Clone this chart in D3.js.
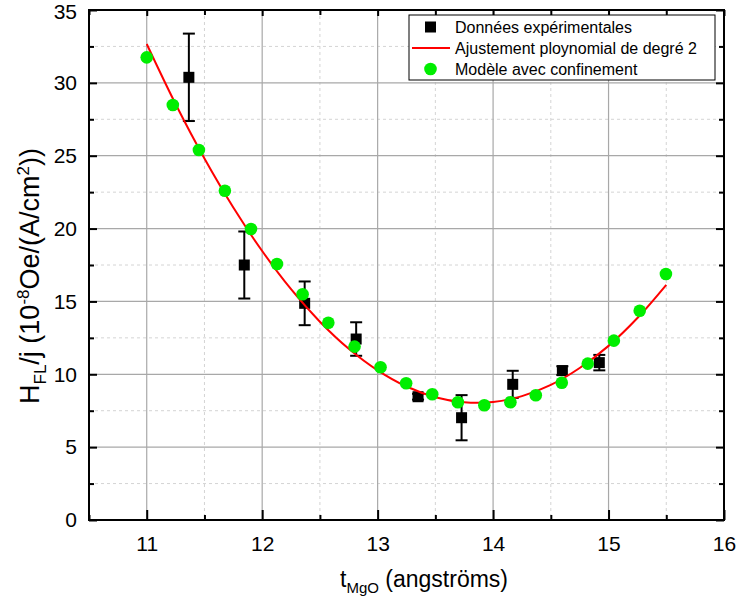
<!DOCTYPE html>
<html><head><meta charset="utf-8">
<script src="https://cdn.jsdelivr.net/npm/d3@7"></script>
<style>body{margin:0;background:#fff}svg{display:block;font-family:"Liberation Sans",Arial,sans-serif}</style>
</head><body>
<script>
const expX = [11.365, 11.845, 12.368, 12.814, 13.35, 13.727, 14.17, 14.60, 14.92];
const expY = [30.38, 17.50, 14.87, 12.42, 8.46, 7.02, 9.31, 10.25, 10.80];
const expErr = [3.0, 2.3, 1.5, 1.15, 0.2, 1.55, 0.93, 0.3, 0.53];
const fitX = [11, 11.25, 11.5, 11.75, 12, 12.25, 12.5, 12.75, 13, 13.25, 13.5, 13.75, 14, 14.25, 14.5, 14.75, 15, 15.25, 15.5];
const fitY = [32.67, 28.55, 24.81, 21.45, 18.46, 15.84, 13.61, 11.75, 10.27, 9.16, 8.43, 8.08, 8.10, 8.50, 9.27, 10.43, 11.95, 13.86, 16.14];
const modX = [11.0, 11.226, 11.452, 11.677, 11.903, 12.128, 12.35, 12.573, 12.8, 13.025, 13.247, 13.473, 13.695, 13.924, 14.15, 14.37, 14.595, 14.82, 15.046, 15.27, 15.497];
const modY = [31.75, 28.48, 25.39, 22.6, 19.97, 17.57, 15.49, 13.54, 11.9, 10.48, 9.38, 8.63, 8.08, 7.87, 8.08, 8.56, 9.42, 10.73, 12.31, 14.36, 16.88];
const xTicks = [11, 12, 13, 14, 15, 16];
const xMinor = [10.5, 11.5, 12.5, 13.5, 14.5, 15.5];
const yTicks = [0, 5, 10, 15, 20, 25, 30, 35];
const yMinor = [2.5, 7.5, 12.5, 17.5, 22.5, 27.5, 32.5];
const legendLabels = ["Données expérimentales", "Ajustement ploynomial de degré 2", "Modèle avec confinement"];

(function () {
const W = 736, H = 604;
const L = 89, R = 724, T = 10, B = 520;
const svg = d3.select("body").append("svg").attr("width", W).attr("height", H);
const x = d3.scaleLinear().domain([10.5, 16]).range([L, R]);
const y = d3.scaleLinear().domain([0, 35]).range([B, T]);

// grid
const g = svg.append("g");
g.selectAll(".gmx").data(xMinor.filter(v => v > 10.5)).enter().append("line")
  .attr("x1", d => x(d)).attr("x2", d => x(d)).attr("y1", T).attr("y2", B)
  .attr("stroke", "#d4d4d4").attr("stroke-dasharray", "3,3");
g.selectAll(".gmy").data(yMinor).enter().append("line")
  .attr("y1", d => y(d)).attr("y2", d => y(d)).attr("x1", L).attr("x2", R)
  .attr("stroke", "#d4d4d4").attr("stroke-dasharray", "3,3");
g.selectAll(".gx").data(xTicks.filter(v => v < 16)).enter().append("line")
  .attr("x1", d => x(d)).attr("x2", d => x(d)).attr("y1", T).attr("y2", B)
  .attr("stroke", "#a8a8a8").attr("stroke-width", 1.2);
g.selectAll(".gy").data(yTicks.filter(v => v > 0 && v < 35)).enter().append("line")
  .attr("y1", d => y(d)).attr("y2", d => y(d)).attr("x1", L).attr("x2", R)
  .attr("stroke", "#a8a8a8").attr("stroke-width", 1.2);

// axes (inward ticks on all sides)
const fs = "21px";
const ax = (axis) => axis.tickSizeOuter(0);
svg.append("g").attr("transform", `translate(0,${B})`)
  .call(ax(d3.axisBottom(x).tickValues(xTicks).tickSize(-10).tickPadding(16).tickFormat(d3.format("d"))));
svg.append("g").attr("transform", `translate(0,${T})`)
  .call(ax(d3.axisTop(x).tickValues(xTicks).tickSize(-6).tickFormat("")));
const leftAx = svg.append("g").attr("transform", `translate(${L},0)`)
  .call(ax(d3.axisLeft(y).tickValues(yTicks).tickSize(-8).tickPadding(12).tickFormat(d3.format("d"))));
svg.append("g").attr("transform", `translate(${R},0)`)
  .call(ax(d3.axisRight(y).tickValues(yTicks).tickSize(-8).tickFormat("")));
svg.append("g").attr("transform", `translate(0,${B})`).call(ax(d3.axisBottom(x).tickValues(xMinor).tickSize(-5).tickFormat("")));
svg.append("g").attr("transform", `translate(0,${T})`).call(ax(d3.axisTop(x).tickValues(xMinor).tickSize(-5).tickFormat("")));
svg.append("g").attr("transform", `translate(${L},0)`).call(ax(d3.axisLeft(y).tickValues(yMinor).tickSize(-5).tickFormat("")));
svg.append("g").attr("transform", `translate(${R},0)`).call(ax(d3.axisRight(y).tickValues(yMinor).tickSize(-5).tickFormat("")));
svg.selectAll(".domain").remove();
svg.selectAll(".tick line").attr("stroke", "#000").attr("stroke-width", 2);
svg.selectAll(".tick text").attr("font-size", fs).attr("fill", "#000").attr("font-family", "Liberation Sans, Arial, sans-serif");
leftAx.selectAll(".tick text").filter(d => d === 35).attr("dy", "0.32em").attr("y", 2);
svg.append("rect").attr("x", L).attr("y", T).attr("width", R - L).attr("height", B - T)
  .attr("fill", "none").attr("stroke", "#000").attr("stroke-width", 2);

// experimental data with error bars
const exp = expX.map((v, i) => ({x: v, y: expY[i], e: expErr[i]}));
const eb = svg.append("g").attr("stroke", "#000").attr("stroke-width", 2);
exp.forEach(d => {
  eb.append("line").attr("x1", x(d.x)).attr("x2", x(d.x)).attr("y1", y(d.y - d.e)).attr("y2", y(d.y + d.e));
  [d.y - d.e, d.y + d.e].forEach(v => eb.append("line").attr("x1", x(d.x) - 6).attr("x2", x(d.x) + 6).attr("y1", y(v)).attr("y2", y(v)));
});
svg.append("g").selectAll("rect").data(exp).enter().append("rect")
  .attr("x", d => x(d.x) - 5.5).attr("y", d => y(d.y) - 5.5).attr("width", 11).attr("height", 11).attr("fill", "#000");

// fit line
const fit = fitX.map((v, i) => [v, fitY[i]]);
svg.append("path").datum(fit)
  .attr("d", d3.line().x(d => x(d[0])).y(d => y(d[1])).curve(d3.curveCatmullRom))
  .attr("fill", "none").attr("stroke", "#ff0000").attr("stroke-width", 2);

// model points
svg.append("g").selectAll("circle").data(modX.map((v, i) => [v, modY[i]])).enter().append("circle")
  .attr("cx", d => x(d[0])).attr("cy", d => y(d[1])).attr("r", 6.3).attr("fill", "#00ee00");

// legend
const lg = svg.append("g");
lg.append("rect").attr("x", 409).attr("y", 15).attr("width", 306).attr("height", 65)
  .attr("fill", "#fff").attr("stroke", "#000").attr("stroke-width", 1);
const rows = [27, 48, 69];
lg.append("rect").attr("x", 425).attr("y", rows[0] - 5.5).attr("width", 11).attr("height", 11).attr("fill", "#000");
lg.append("line").attr("x1", 412).attr("x2", 450).attr("y1", rows[1]).attr("y2", rows[1]).attr("stroke", "#ff0000").attr("stroke-width", 2);
lg.append("circle").attr("cx", 430.5).attr("cy", rows[2]).attr("r", 6.3).attr("fill", "#00ee00");
legendLabels.forEach((t, i) => lg.append("text").attr("x", 455).attr("y", rows[i]).attr("dy", "0.36em")
  .attr("font-size", "16px").attr("fill", "#000").text(t));

// axis titles
const xt = svg.append("text").attr("x", 424).attr("y", 587).attr("text-anchor", "middle").attr("font-size", "23px").attr("fill", "#000");
xt.append("tspan").text("t");
xt.append("tspan").attr("font-size", "15px").attr("dy", 6).text("MgO");
xt.append("tspan").attr("dy", -6).text(" (angströms)");

const yt = svg.append("text").attr("transform", "translate(39,276) rotate(-90)").attr("text-anchor", "middle")
  .attr("font-size", "27px").attr("fill", "#000");
yt.append("tspan").text("H");
yt.append("tspan").attr("font-size", "17px").attr("dy", 7).text("FL");
yt.append("tspan").attr("dy", -7).text("/j (10");
yt.append("tspan").attr("font-size", "17px").attr("dy", -10).text("-8");
yt.append("tspan").attr("dy", 10).text("Oe/(A/cm");
yt.append("tspan").attr("font-size", "17px").attr("dy", -10).text("2");
yt.append("tspan").attr("dy", 10).text("))");
})();
</script>
</body></html>
